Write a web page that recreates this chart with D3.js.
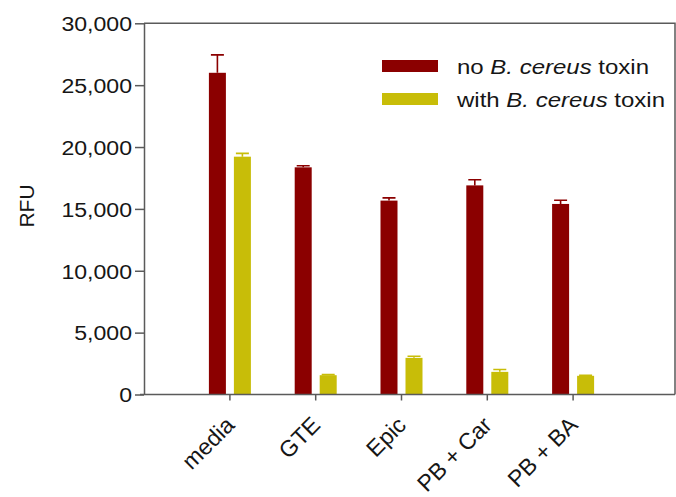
<!DOCTYPE html>
<html>
<head>
<meta charset="utf-8">
<script src="https://cdn.jsdelivr.net/npm/d3@7"></script>
<style>
  html, body { margin: 0; padding: 0; background: #fff; }
  svg { display: block; font-family: "Liberation Sans", Arial, sans-serif; }
</style>
</head>
<body>
<svg id="chart" width="676" height="497"></svg>
<script>
// Treatments along the x axis
const categories = ["media", "GTE", "Epic", "PB + Car", "PB + BA"];
// Two conditions per treatment
const seriesNames = ["no", "with"];
// Mean RFU without the toxin, and its error (upper bar only)
const noToxin    = [26000, 18360, 15670, 16900, 15400];
const noToxinErr = [1450, 130, 220, 450, 300];
// Mean RFU with the toxin, and its error
const withToxin    = [19220, 1560, 2960, 1830, 1510];
const withToxinErr = [270, 50, 130, 190, 40];
// Y axis ticks
const yTicks = [0, 5000, 10000, 15000, 20000, 25000, 30000];

const colors = { no: "#8b0000", with: "#c8bd08" };
const axisColor = "#5a5a5a";
const textColor = "#161616";

const svg = d3.select("#chart");

const plot = { left: 144, right: 675, top: 23.3, bottom: 394.5 };

const y = d3.scaleLinear().domain([0, 30000]).range([plot.bottom, plot.top]);
const x = d3.scaleBand().domain(categories).range([187, 616]).paddingInner(0).paddingOuter(0);
const xs = d3.scaleBand().domain(seriesNames).range([-21, 21]).paddingInner(0.32);

const rows = categories.map((c, i) => ({
  cat: c,
  values: [
    { key: "no", v: noToxin[i], e: noToxinErr[i] },
    { key: "with", v: withToxin[i], e: withToxinErr[i] }
  ]
}));

// Frame: top and right borders
svg.append("path")
  .attr("d", `M${plot.left},${plot.top}H${plot.right}V${plot.bottom}`)
  .attr("fill", "none").attr("stroke", axisColor).attr("stroke-width", 1.5);

// Bars and error bars
const groups = svg.append("g").selectAll("g").data(rows).join("g")
  .attr("transform", d => `translate(${x(d.cat) + x.bandwidth() / 2},0)`);

groups.selectAll("rect").data(d => d.values).join("rect")
  .attr("x", d => xs(d.key))
  .attr("width", xs.bandwidth())
  .attr("y", d => y(d.v))
  .attr("height", d => y(0) - y(d.v))
  .attr("fill", d => colors[d.key]);

const capHalf = 6.5;
groups.selectAll("path.err").data(d => d.values).join("path")
  .attr("class", "err")
  .attr("d", d => {
    const cx = xs(d.key) + xs.bandwidth() / 2;
    return `M${cx},${y(d.v)}V${y(d.v + d.e)}M${cx - capHalf},${y(d.v + d.e)}H${cx + capHalf}`;
  })
  .attr("fill", "none")
  .attr("stroke", d => colors[d.key])
  .attr("stroke-width", 1.6);

// Y axis
const yAxis = svg.append("g")
  .attr("transform", `translate(${plot.left},0)`)
  .call(d3.axisLeft(y).tickValues(yTicks).tickSize(9).tickSizeOuter(0)
    .tickFormat(d3.format(",")));
yAxis.select(".domain").attr("stroke", axisColor).attr("stroke-width", 1.5);
yAxis.selectAll(".tick line").attr("stroke", axisColor).attr("stroke-width", 1.5);
yAxis.selectAll(".tick text").remove();
yAxis.selectAll(".tick").append("text")
  .attr("transform", "translate(-12,0) scale(1.1,1)")
  .attr("text-anchor", "end")
  .attr("dy", "0.35em")
  .attr("fill", textColor)
  .attr("font-size", 21)
  .text(d => d3.format(",")(d));

// X axis
const xAxis = svg.append("g")
  .attr("transform", `translate(0,${plot.bottom})`)
  .call(d3.axisBottom(x).tickSize(6).tickSizeOuter(0));
xAxis.select(".domain").attr("d", `M140,0H${plot.right}`)
  .attr("stroke", axisColor).attr("stroke-width", 1.5);
xAxis.selectAll(".tick line").attr("stroke", axisColor).attr("stroke-width", 1.5);
xAxis.selectAll(".tick text")
  .attr("x", 0).attr("y", 0).attr("dy", 0)
  .attr("transform", "translate(6,32) rotate(-45)")
  .attr("text-anchor", "end")
  .attr("fill", textColor)
  .attr("font-size", 23);

// Y axis title
svg.append("text")
  .attr("transform", "translate(34,206) rotate(-90)")
  .attr("text-anchor", "middle")
  .attr("fill", textColor)
  .attr("font-size", 21)
  .text("RFU");

// Legend
const legendItems = [
  { key: "no", pre: "no " },
  { key: "with", pre: "with " }
];
const legend = svg.append("g").selectAll("g").data(legendItems).join("g")
  .attr("transform", (d, i) => `translate(382,${60 + i * 33})`);
legend.append("rect")
  .attr("width", 56).attr("height", 12)
  .attr("fill", d => colors[d.key]);
const lt = legend.append("text")
  .attr("transform", "translate(75,13.5) scale(1.2,1)")
  .attr("fill", textColor)
  .attr("font-size", 20);
lt.append("tspan").text(d => d.pre);
lt.append("tspan").attr("font-style", "italic").text("B. cereus");
lt.append("tspan").text(" toxin");
</script>
</body>
</html>
